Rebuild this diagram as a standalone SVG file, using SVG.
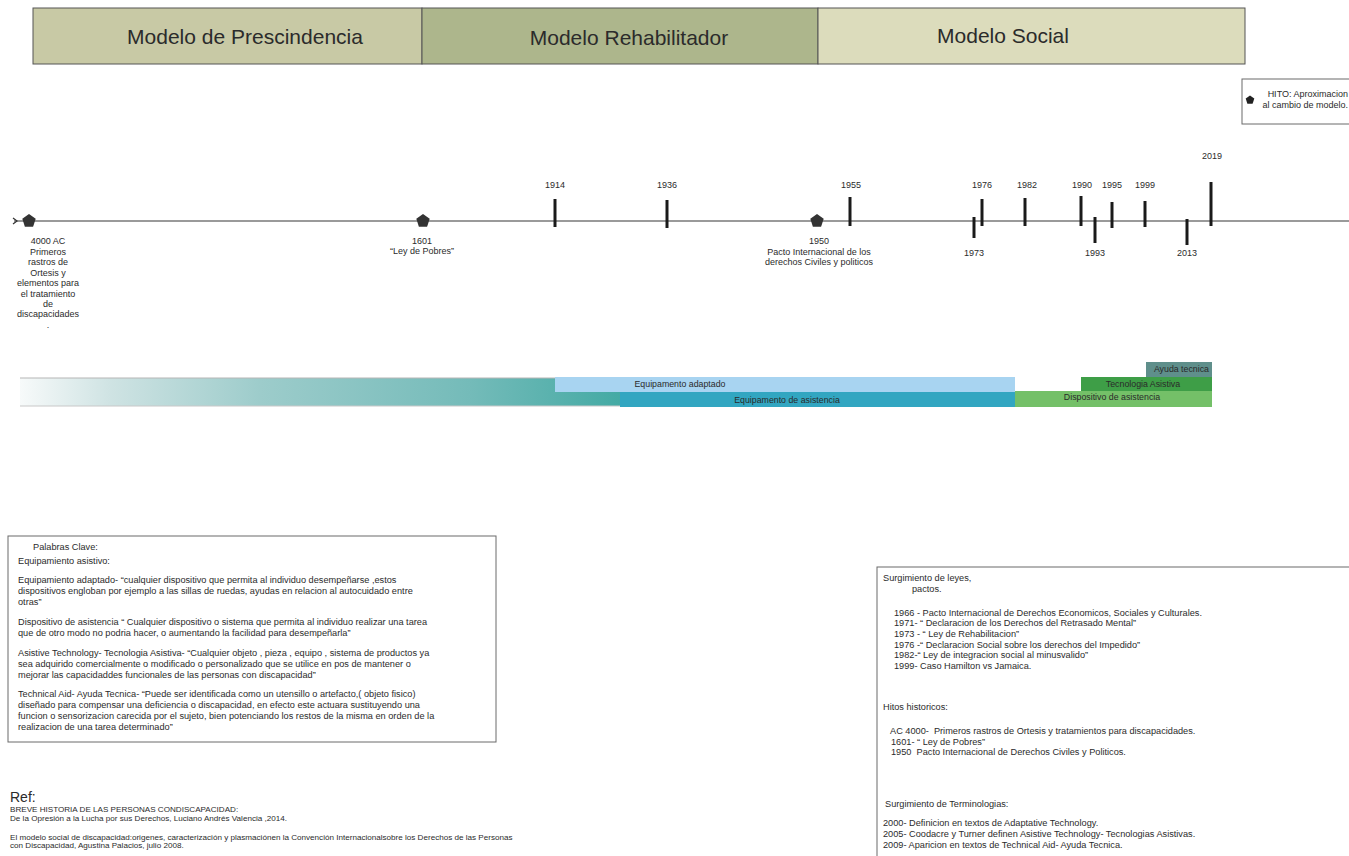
<svg xmlns="http://www.w3.org/2000/svg" xmlns:xlink="http://www.w3.org/1999/xlink" width="1349" height="856" viewBox="0 0 1349 856">
<style>
text{font-family:"Liberation Sans",Arial,sans-serif;fill:#2b2b2b}
.hdr{font-size:21px;text-anchor:middle}
.yr{font-size:9px;text-anchor:middle}
.lbl{font-size:9px;text-anchor:middle}
.bar{font-size:8.8px;text-anchor:middle;fill:#2a2a2a}
.body{font-size:9.2px}
.ref{font-size:8.1px}
.tick{stroke:#1a1a1a;stroke-width:3}
.box{fill:#fff;stroke:#6a6a6a;stroke-width:1}
.mrk{fill:#333}
</style>
<defs>
<path id="pent" d="M0,-7 L6.7,-2.2 L4.1,5.7 L-4.1,5.7 L-6.7,-2.2 Z"/>
<linearGradient id="grad" x1="0" y1="0" x2="1" y2="0">
<stop offset="0" stop-color="#f7fafa"/>
<stop offset="0.15" stop-color="#cfe3e3"/>
<stop offset="0.4" stop-color="#9dcccb"/>
<stop offset="0.75" stop-color="#74bbb9"/>
<stop offset="1" stop-color="#44aaa4"/>
</linearGradient>
</defs>
<rect width="1349" height="856" fill="#fff"/>

<g id="header">
<g id="modelo-prescindencia">
<rect x="33" y="8" width="389" height="56" fill="#c8c9a5" stroke="#555" stroke-width="1"/>
<text class="hdr" x="245" y="44">Modelo de Prescindencia</text>
</g>
<g id="modelo-rehabilitador">
<rect x="422" y="8" width="396" height="56" fill="#adb68c" stroke="#555" stroke-width="1"/>
<text class="hdr" x="629" y="45">Modelo Rehabilitador</text>
</g>
<g id="modelo-social">
<rect x="818" y="8" width="427" height="56" fill="#dcdcbc" stroke="#555" stroke-width="1"/>
<text class="hdr" x="1003" y="43">Modelo Social</text>
</g>
</g>

<g id="legend">
<rect class="box" x="1242" y="79" width="120" height="45"/>
<path d="M1250,95.5 L1254.3,98.6 L1252.6,103.7 L1247.4,103.7 L1245.7,98.6 Z" fill="#222"/>
<text x="1348" y="97" style="font-size:9px;text-anchor:end">HITO: Aproximacion</text>
<text x="1348" y="108" style="font-size:9px;text-anchor:end">al cambio de modelo.</text>
</g>

<g id="connectors">
<line x1="14" y1="221" x2="1349" y2="221" stroke="#9a9a9a" stroke-width="2"/>
<path d="M13,218 L17,221 L13,224" fill="none" stroke="#333" stroke-width="1.2"/>
</g>

<g id="hito-4000ac">
<use xlink:href="#pent" x="29" y="221" class="mrk"/>
<text class="lbl" x="48" y="244">4000 AC</text>
<text class="lbl" x="48" y="255">Primeros</text>
<text class="lbl" x="48" y="265">rastros de</text>
<text class="lbl" x="48" y="276">Ortesis y</text>
<text class="lbl" x="48" y="286">elementos para</text>
<text class="lbl" x="48" y="297">el tratamiento</text>
<text class="lbl" x="48" y="307">de</text>
<text class="lbl" x="48" y="317">discapacidades</text>
<text class="lbl" x="48" y="328">.</text>
</g>
<g id="hito-1601">
<use xlink:href="#pent" x="423" y="221" class="mrk"/>
<text class="lbl" x="422" y="244">1601</text>
<text class="lbl" x="422" y="254">“Ley de Pobres”</text>
</g>
<g id="hito-1950">
<use xlink:href="#pent" x="817" y="221" class="mrk"/>
<text class="lbl" x="819" y="244">1950</text>
<text class="lbl" x="819" y="255">Pacto Internacional de los</text>
<text class="lbl" x="819" y="265">derechos Civiles y politicos</text>
</g>

<g id="t1914"><line class="tick" x1="555" y1="199" x2="555" y2="227"/><text class="yr" x="555" y="188">1914</text></g>
<g id="t1936"><line class="tick" x1="667" y1="200" x2="667" y2="228"/><text class="yr" x="667" y="188">1936</text></g>
<g id="t1955"><line class="tick" x1="850" y1="197" x2="850" y2="226"/><text class="yr" x="851" y="188">1955</text></g>
<g id="t1973"><line class="tick" x1="974" y1="217" x2="974" y2="238"/><text class="yr" x="974" y="256">1973</text></g>
<g id="t1976"><line class="tick" x1="982" y1="199" x2="982" y2="226"/><text class="yr" x="982" y="188">1976</text></g>
<g id="t1982"><line class="tick" x1="1025" y1="198" x2="1025" y2="226"/><text class="yr" x="1027" y="188">1982</text></g>
<g id="t1990"><line class="tick" x1="1081" y1="196" x2="1081" y2="226"/><text class="yr" x="1082" y="188">1990</text></g>
<g id="t1993"><line class="tick" x1="1095" y1="217" x2="1095" y2="243"/><text class="yr" x="1095" y="256">1993</text></g>
<g id="t1995"><line class="tick" x1="1112" y1="202" x2="1112" y2="228"/><text class="yr" x="1112" y="188">1995</text></g>
<g id="t1999"><line class="tick" x1="1145" y1="201" x2="1145" y2="227"/><text class="yr" x="1145" y="188">1999</text></g>
<g id="t2013"><line class="tick" x1="1187" y1="219" x2="1187" y2="245"/><text class="yr" x="1187" y="256">2013</text></g>
<g id="t2019"><line class="tick" x1="1211" y1="182" x2="1211" y2="226"/><text class="yr" x="1212" y="159">2019</text></g>

<g id="bars">
<g id="bar-gradiente">
<rect x="20" y="378" width="600" height="28" fill="url(#grad)"/>
<line x1="20" y1="378" x2="620" y2="378" stroke="#b5b5b5" stroke-width="1"/>
<line x1="20" y1="406" x2="620" y2="406" stroke="#c8c8c8" stroke-width="1"/>
</g>
<g id="bar-equip-adaptado">
<rect x="555" y="377" width="460" height="15" fill="#a8d4f1"/>
<text class="bar" x="680" y="387">Equipamento adaptado</text>
</g>
<g id="bar-equip-asistencia">
<rect x="620" y="392" width="395" height="15" fill="#32a6c1"/>
<text class="bar" x="787" y="403">Equipamento de asistencia</text>
</g>
<g id="bar-dispositivo">
<rect x="1015" y="391" width="197" height="16" fill="#74c068"/>
<text class="bar" x="1112" y="400">Dispositivo de asistencia</text>
</g>
<g id="bar-tecnologia">
<rect x="1081" y="377" width="131" height="14" fill="#3e9e47"/>
<text class="bar" x="1143" y="387">Tecnologia Asistiva</text>
</g>
<g id="bar-ayuda">
<rect x="1146" y="362" width="66" height="15" fill="#5f8f8b"/>
<text class="bar" x="1209" y="372" style="text-anchor:end">Ayuda tecnica</text>
</g>
</g>

<g id="palabras-clave">
<rect class="box" x="8" y="536" width="488" height="206"/>
<text class="body" x="33" y="550">Palabras Clave:</text>
<text class="body" x="18" y="564">Equipamiento asistivo:</text>
<text class="body" x="18" y="583">Equipamiento adaptado- “cualquier dispositivo que permita al individuo desempeñarse ,estos</text>
<text class="body" x="18" y="594">dispositivos engloban por ejemplo a las sillas de ruedas, ayudas en relacion al autocuidado entre</text>
<text class="body" x="18" y="605">otras”</text>
<text class="body" x="18" y="625">Dispositivo de asistencia “ Cualquier dispositivo o sistema que permita al individuo realizar una tarea</text>
<text class="body" x="18" y="636">que de otro modo no podria hacer, o aumentando la facilidad para desempeñarla”</text>
<text class="body" x="18" y="656">Asistive Technology- Tecnologia Asistiva- “Cualquier objeto , pieza , equipo , sistema de productos ya</text>
<text class="body" x="18" y="667">sea adquirido comercialmente o modificado o personalizado que se utilice en pos de mantener o</text>
<text class="body" x="18" y="678">mejorar las capacidaddes funcionales de las personas con discapacidad”</text>
<text class="body" x="18" y="697">Technical Aid- Ayuda Tecnica- “Puede ser identificada como un utensillo o artefacto,( objeto fisico)</text>
<text class="body" x="18" y="708">diseñado para compensar una deficiencia o discapacidad, en efecto este actuara sustituyendo una</text>
<text class="body" x="18" y="719">funcion o sensorizacion carecida por el sujeto, bien potenciando los restos de la misma en orden de la</text>
<text class="body" x="18" y="730">realizacion de una tarea determinado”</text>
</g>

<g id="surgimiento">
<rect class="box" x="877" y="567" width="500" height="300"/>
<text class="body" x="883" y="581">Surgimiento de leyes,</text>
<text class="body" x="912" y="592">pactos.</text>
<text class="body" x="894" y="616">1966 - Pacto Internacional de Derechos Economicos, Sociales y Culturales.</text>
<text class="body" x="894" y="626">1971- “ Declaracion de los Derechos del Retrasado Mental”</text>
<text class="body" x="894" y="637">1973 - “ Ley de Rehabilitacion”</text>
<text class="body" x="894" y="648">1976 -“ Declaracion Social sobre los derechos del Impedido”</text>
<text class="body" x="894" y="658">1982-“ Ley de integracion social al minusvalido”</text>
<text class="body" x="894" y="669">1999- Caso Hamilton vs Jamaica.</text>
<text class="body" x="883" y="710">Hitos historicos:</text>
<text class="body" x="890" y="734" xml:space="preserve">AC 4000-  Primeros rastros de Ortesis y tratamientos para discapacidades.</text>
<text class="body" x="891" y="745">1601- “ Ley de Pobres”</text>
<text class="body" x="891" y="755" xml:space="preserve">1950  Pacto Internacional de Derechos Civiles y Politicos.</text>
<text class="body" x="885" y="807">Surgimiento de Terminologias:</text>
<text class="body" x="883" y="826">2000- Definicion en textos de Adaptative Technology.</text>
<text class="body" x="883" y="837">2005- Coodacre y Turner definen Asistive Technology- Tecnologias Asistivas.</text>
<text class="body" x="883" y="848">2009- Aparicion en textos de Technical Aid- Ayuda Tecnica.</text>
</g>

<g id="referencias">
<text x="10" y="802" style="font-size:14px">Ref:</text>
<text class="ref" x="10" y="812">BREVE HISTORIA DE LAS PERSONAS CONDISCAPACIDAD:</text>
<text class="ref" x="10" y="821">De la Opresión a la Lucha por sus Derechos, Luciano Andrés Valencia ,2014.</text>
<text class="ref" x="10" y="840">El modelo social de discapacidad:origenes, caracterización y plasmaciónen la Convención Internacionalsobre los Derechos de las Personas</text>
<text class="ref" x="10" y="848">con Discapacidad, Agustina Palacios, julio 2008.</text>
</g>
</svg>
